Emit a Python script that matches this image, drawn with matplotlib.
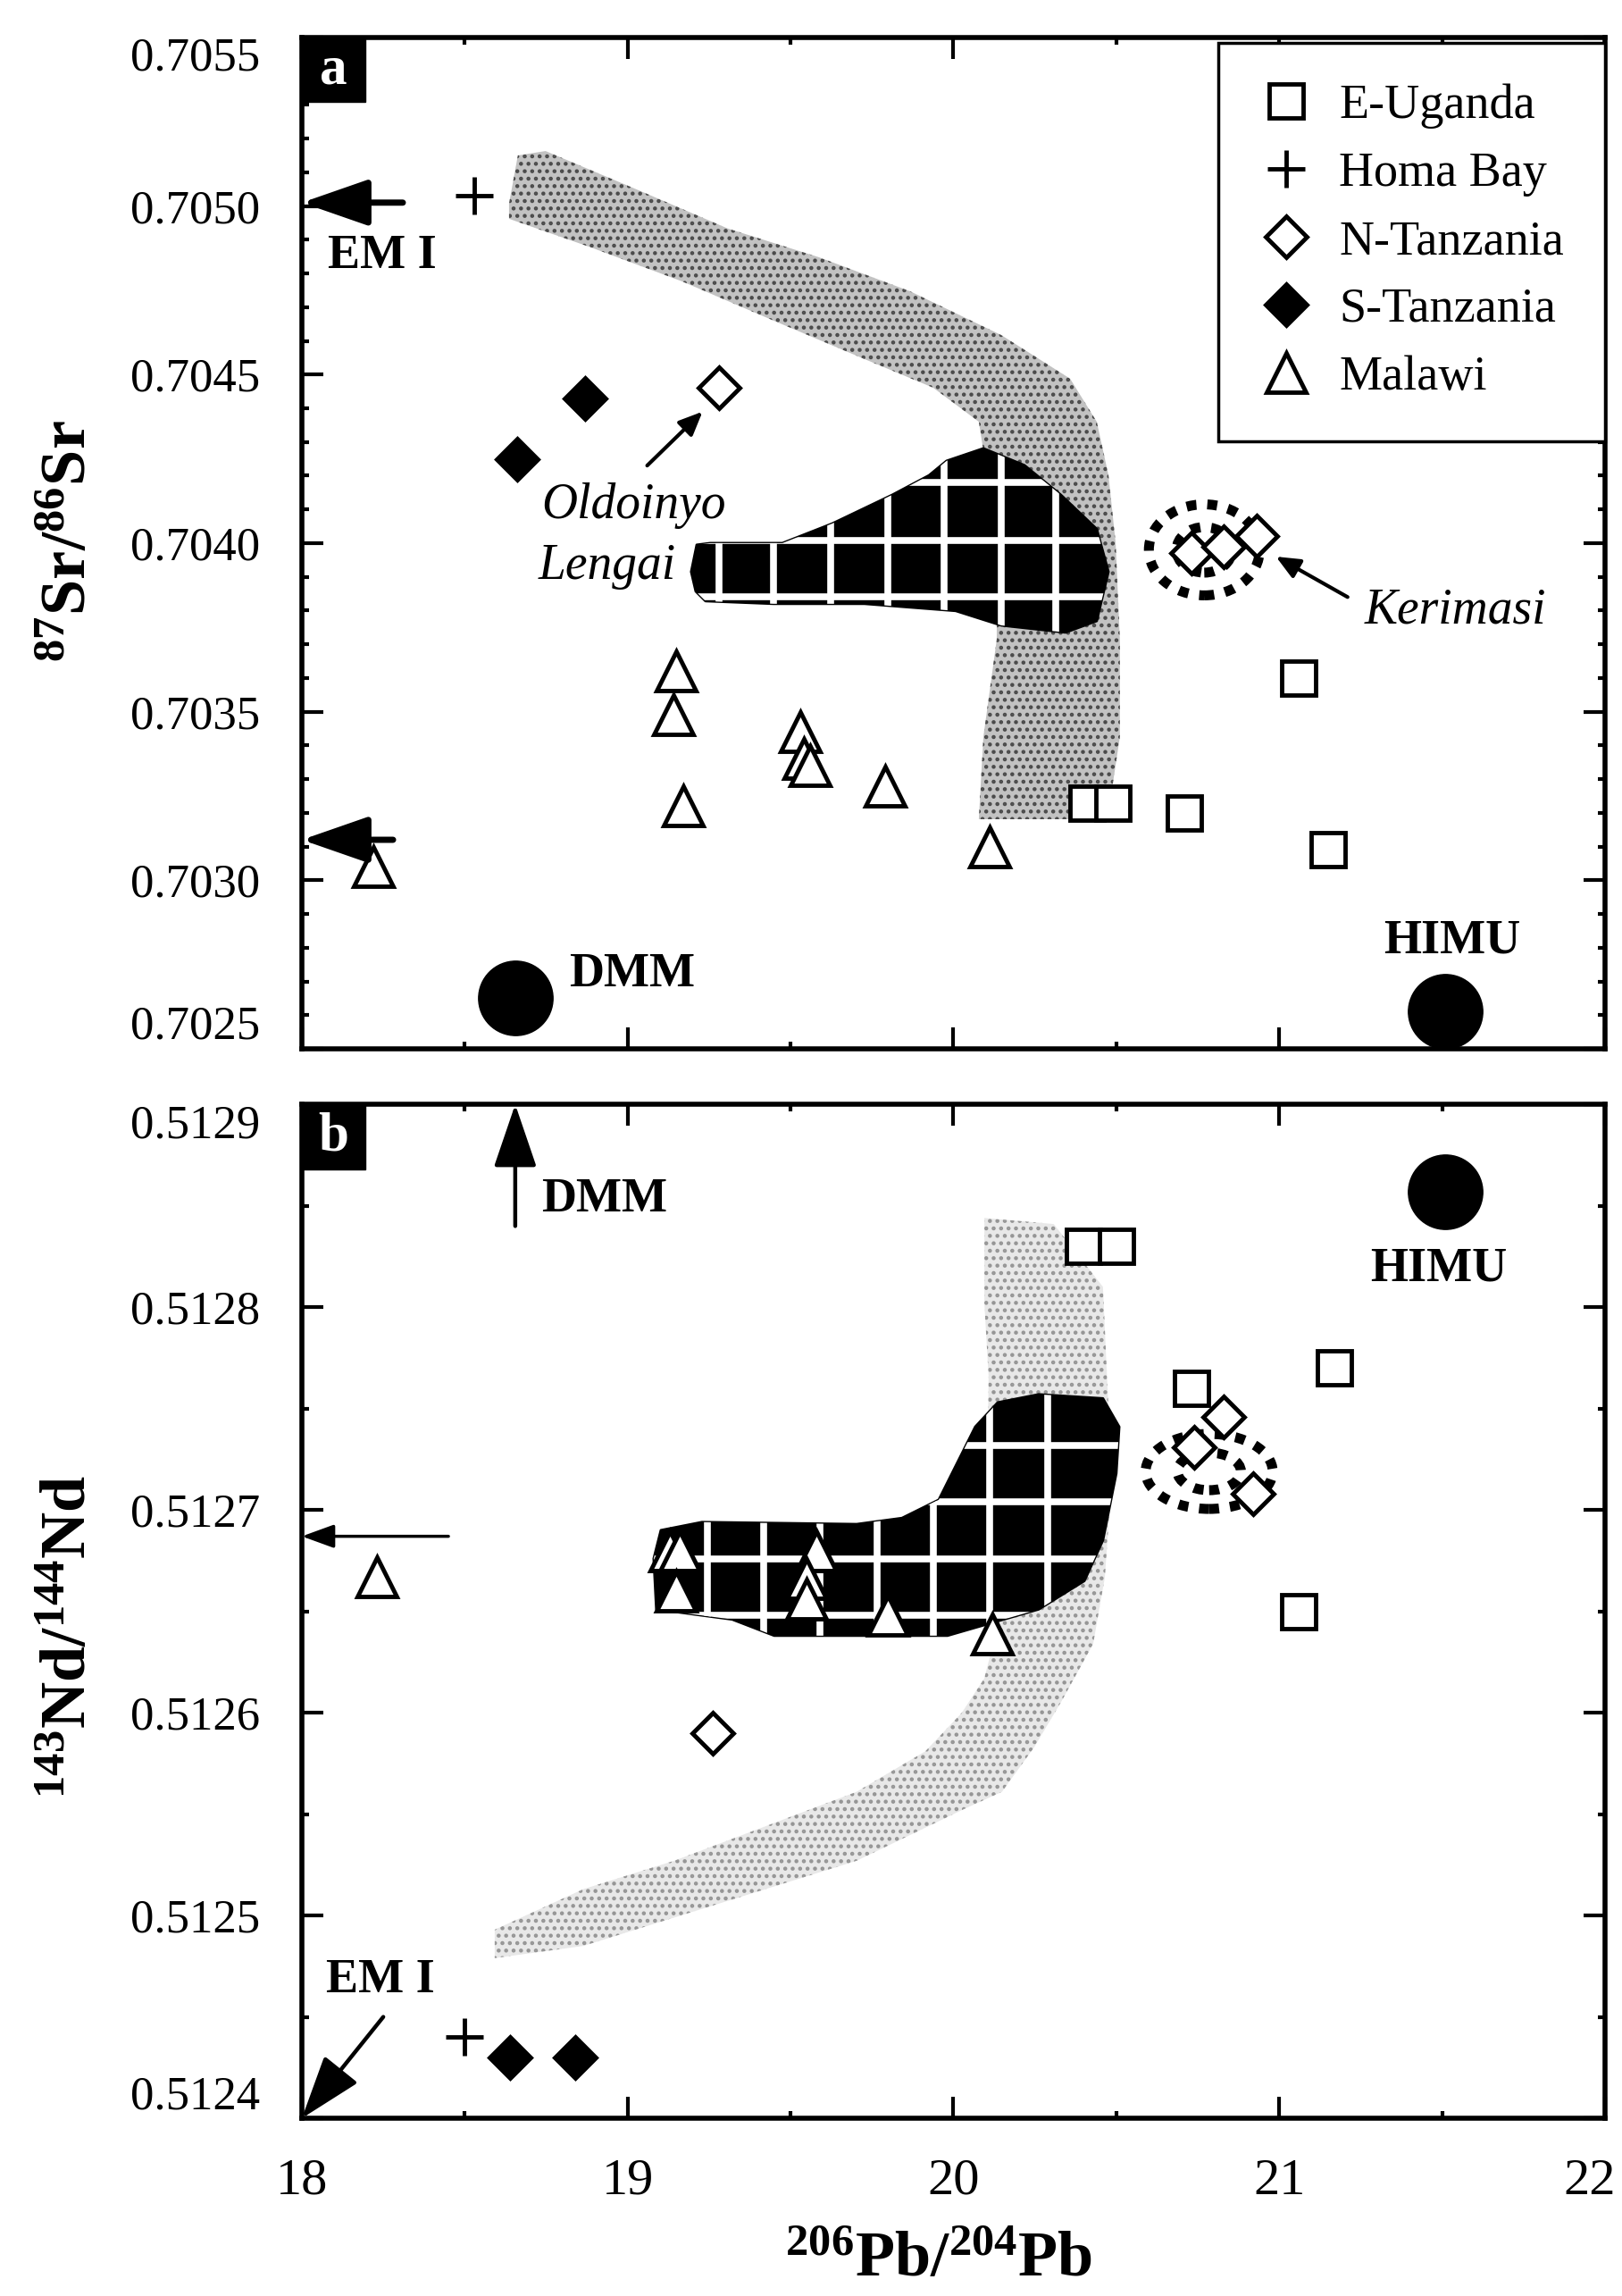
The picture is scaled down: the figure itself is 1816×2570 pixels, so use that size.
import matplotlib.pyplot as plt
from matplotlib.patches import Polygon, Ellipse, Rectangle
from matplotlib.ticker import MultipleLocator, FormatStrFormatter
from matplotlib.transforms import ScaledTranslation

plt.rcParams['font.family'] = ['Liberation Serif', 'DejaVu Serif']
plt.rcParams['mathtext.default'] = 'regular'
plt.rcParams['hatch.linewidth'] = 2.0

# ---------------- axes ticks ----------------
pb_ticks = [18, 19, 20, 21, 22]
sr_ticks = [0.7025, 0.7030, 0.7035, 0.7040, 0.7045, 0.7050, 0.7055]
nd_ticks = [0.5124, 0.5125, 0.5126, 0.5127, 0.5128, 0.5129]

# ---------------- panel a : 206Pb/204Pb vs 87Sr/86Sr ----------------
uganda_pb_a = [20.41, 20.49, 20.71, 21.06, 21.15]
uganda_sr = [0.70323, 0.70323, 0.70320, 0.70360, 0.70309]
homabay_pb_a = [18.53]
homabay_sr = [0.70503]
ntanz_pb_a = [19.28, 20.73, 20.83, 20.93]
ntanz_sr = [0.70446, 0.70397, 0.70399, 0.70402]
stanz_pb_a = [18.66, 18.87]
stanz_sr = [0.70425, 0.70443]
malawi_pb_a = [18.22, 19.15, 19.14, 19.17, 19.53, 19.54, 19.56, 19.79, 20.11]
malawi_sr = [0.70304, 0.70362, 0.70349, 0.70322, 0.70344, 0.70336, 0.70334, 0.70328, 0.70310]

dmm_pb, dmm_sr = 18.655, 0.70265
himu_pb, himu_sr = 21.51, 0.70261

# grey stippled band (outline, clockwise)
band_a_pb = [18.636, 18.663, 18.748, 19.028, 19.308, 19.587, 19.867, 20.147, 20.358,
             20.440, 20.476, 20.498, 20.511, 20.511, 20.484, 20.440,
             20.078, 20.092, 20.133, 20.133, 20.078, 19.938, 19.727, 19.448,
             19.168, 18.888, 18.636]
band_a_sr = [0.705007, 0.70515, 0.705163, 0.705049, 0.704933, 0.704848, 0.704747, 0.704617, 0.704488,
             0.70436, 0.704201, 0.704, 0.703714, 0.703425, 0.703253, 0.703181,
             0.703181, 0.703425, 0.703714, 0.704021, 0.70436, 0.704461, 0.704546, 0.70466,
             0.704776, 0.704877, 0.704962]

# Oldoinyo Lengai field
lengai_pb_a = [19.195, 19.212, 19.253, 19.475, 19.628, 19.812, 19.925, 19.979, 20.092, 20.218,
               20.330, 20.440, 20.476, 20.440, 20.344, 20.147, 20.007, 19.727, 19.448, 19.239, 19.209]
lengai_sr = [0.703915, 0.703995, 0.704, 0.704, 0.704058, 0.704143, 0.704201, 0.704244, 0.704281, 0.704231,
             0.704143, 0.704042, 0.703915, 0.703769, 0.703735, 0.703756, 0.703799, 0.70382, 0.70382, 0.703828, 0.703857]
grid_pb_a = [19.280, 19.447, 19.623, 19.798, 19.971, 20.147, 20.314]
grid_sr = [0.70418, 0.704008, 0.703841]

# Kerimasi field: centre x, centre y, width, height
kerimasi_a = [20.77, 0.70398, 0.34, 0.00027]

# ---------------- panel b : 206Pb/204Pb vs 143Nd/144Nd ----------------
uganda_pb_b = [20.40, 20.50, 20.73, 21.17, 21.06]
uganda_nd = [0.51283, 0.51283, 0.51276, 0.51277, 0.51265]
homabay_pb_b = [18.50]
homabay_nd = [0.51244]
ntanz_pb_b = [19.26, 20.83, 20.74, 20.92]
ntanz_nd = [0.51259, 0.512746, 0.512731, 0.512708]
stanz_pb_b = [18.64, 18.84]
stanz_nd = [0.51243, 0.51243]
malawi_pb_b = [18.23, 19.13, 19.16, 19.15, 19.58, 19.55, 19.55, 19.80, 20.12]
malawi_nd = [0.512667, 0.51268, 0.51268, 0.51266, 0.51268, 0.512666, 0.512656, 0.512648, 0.512639]

himu_nd = 0.512857

band_b_pb = [18.592, 18.592, 18.864, 19.143, 19.423, 19.703, 19.914, 20.026, 20.095, 20.122,
             20.103, 20.108, 20.095, 20.095, 20.308, 20.459, 20.473, 20.487, 20.465, 20.429,
             20.333, 20.248, 20.149, 20.026, 19.703, 19.423, 19.143, 18.864]
band_b_nd = [0.512479, 0.512493, 0.512513, 0.512527, 0.512544, 0.512561, 0.512581, 0.5126, 0.512617, 0.512634,
             0.512696, 0.512766, 0.512802, 0.512844, 0.512841, 0.51281, 0.51276, 0.512718, 0.512667, 0.512634,
             0.512606, 0.512583, 0.512561, 0.512552, 0.512527, 0.512513, 0.512499, 0.512485]

lengai_pb_b = [19.080, 19.102, 19.228, 19.703, 19.842, 19.955, 20.067, 20.136, 20.262, 20.459,
               20.509, 20.500, 20.459, 20.402, 20.262, 19.982, 19.450, 19.321, 19.088]
lengai_nd = [0.512676, 0.51269, 0.512694, 0.512693, 0.512696, 0.512705, 0.512741, 0.512753, 0.512757, 0.512755,
             0.512741, 0.512718, 0.512685, 0.512665, 0.512651, 0.512638, 0.512638, 0.512646, 0.512651]
grid_pb_b = [19.245, 19.417, 19.590, 19.766, 19.938, 20.110, 20.289]
grid_nd = [0.512732, 0.512704, 0.512676, 0.512648]

kerimasi_b = [20.785, 0.512719, 0.39, 0.000037]

# arrows: (tail, tip, style)
arrows_a = [((18.31, 0.70501), (18.0, 0.70501), 'big'),
            ((18.28, 0.70312), (18.0, 0.70312), 'big'),
            ((19.06, 0.70423), (19.23, 0.70439), 'small'),
            ((21.21, 0.70384), (20.99, 0.70396), 'small')]
arrows_b = [((18.655, 0.51284), (18.655, 0.5129), 'mid'),
            ((18.45, 0.512687), (18.0, 0.512687), 'thin'),
            ((18.25, 0.51245), (18.0, 0.5124), 'mid')]

groups = ['E-Uganda', 'Homa Bay', 'N-Tanzania', 'S-Tanzania', 'Malawi']
styles = {
    'E-Uganda': dict(marker='s', ms=28, mfc='white', mec='black', mew=3.5),
    'Homa Bay': dict(marker='+', ms=30, mec='black', mew=3.5),
    'N-Tanzania': dict(marker='D', ms=23, mfc='white', mec='black', mew=3.5),
    'S-Tanzania': dict(marker='D', ms=23, mfc='black', mec='black', mew=3.5),
    'Malawi': dict(marker='^', ms=32, mfc='white', mec='black', mew=3.5),
}
arrow_styles = {
    'big': dict(arrowstyle='-|>,head_length=2.3,head_width=0.8', lw=5, mutation_scale=20),
    'mid': dict(arrowstyle='-|>,head_length=2.2,head_width=0.75', lw=3.2, mutation_scale=20),
    'thin': dict(arrowstyle='-|>,head_length=1.1,head_width=0.4', lw=2.5, mutation_scale=20),
    'small': dict(arrowstyle='-|>,head_length=0.8,head_width=0.35', lw=3, mutation_scale=20),
}

fig = plt.figure(figsize=(18.16, 25.70), dpi=100)
ax_a = fig.add_axes([0.1861, 0.5432, 0.8034, 0.4405])
ax_b = fig.add_axes([0.1861, 0.0774, 0.8034, 0.4416])


def add_field(ax, band_x, band_y, band_fc, band_hc, field_x, field_y, gx, gy, ker):
    band = Polygon(list(zip(band_x, band_y)), closed=True, facecolor=band_fc,
                   edgecolor=band_hc, lw=0, hatch='..', zorder=1)
    ax.add_patch(band)
    field = Polygon(list(zip(field_x, field_y)), closed=True, facecolor='black',
                    edgecolor='black', lw=2, joinstyle='round', zorder=2)
    ax.add_patch(field)
    for x in gx:
        ln = ax.axvline(x, color='white', lw=5.5, zorder=2.5)
        ln.set_clip_path(field)
    for y in gy:
        ln = ax.axhline(y, color='white', lw=5.5, zorder=2.5)
        ln.set_clip_path(field)
    cx, cy, w, h = ker
    for f in [1.0, 0.5]:
        ax.add_patch(Ellipse((cx, cy), w * f, h * f, facecolor='none', edgecolor='black',
                             lw=8, linestyle=(0, (1.0, 1.1)), zorder=2))


def style_axes(ax, yticks, ymin_step):
    ax.set_xlim(pb_ticks[0], pb_ticks[-1])
    ax.set_ylim(yticks[0], yticks[-1])
    ax.set_xticks(pb_ticks)
    ax.set_yticks(yticks)
    ax.xaxis.set_minor_locator(MultipleLocator(0.5))
    ax.yaxis.set_minor_locator(MultipleLocator(ymin_step))
    ax.yaxis.set_major_formatter(FormatStrFormatter('%.4f'))
    ax.tick_params(which='both', direction='in', top=True, right=True)
    ax.tick_params(which='major', length=17, width=3)
    ax.tick_params(which='minor', length=6, width=3)
    ax.tick_params(axis='y', labelsize=38, pad=34)
    ax.tick_params(axis='x', labelsize=42, pad=32)
    for s in ax.spines.values():
        s.set_linewidth(4)


def panel_tag(ax, letter):
    ax.add_patch(Rectangle((0, 1 - 0.064), 0.049, 0.064, transform=ax.transAxes,
                           facecolor='black', edgecolor='black', zorder=6, clip_on=False))
    ax.text(0.0245, 1 - 0.032, letter, transform=ax.transAxes, ha='center', va='center',
            color='white', fontsize=44, fontweight='bold', zorder=7)


# ---- panel a ----
add_field(ax_a, band_a_pb, band_a_sr, '#c2c2c2', '#4a4a4a',
          lengai_pb_a, lengai_sr, grid_pb_a, grid_sr, kerimasi_a)
data_a = {'E-Uganda': (uganda_pb_a, uganda_sr), 'Homa Bay': (homabay_pb_a, homabay_sr),
          'N-Tanzania': (ntanz_pb_a, ntanz_sr), 'S-Tanzania': (stanz_pb_a, stanz_sr),
          'Malawi': (malawi_pb_a, malawi_sr)}
for g in groups:
    x, y = data_a[g]
    ax_a.plot(x, y, ls='none', label=g, zorder=4, **styles[g])
ax_a.plot([dmm_pb], [dmm_sr], 'o', color='black', ms=60, zorder=4)
ax_a.plot([himu_pb], [himu_sr], 'o', color='black', ms=60, zorder=4)
ax_a.text(18.82, 0.70272, 'DMM', fontsize=39, fontweight='bold', ha='left', va='center')
ax_a.text(21.53, 0.70282, 'HIMU', fontsize=39, fontweight='bold', ha='center', va='center')
ax_a.text(18.08, 0.70485, 'EM I', fontsize=39, fontweight='bold', ha='left', va='center')
ax_a.text(18.735, 0.70411, 'Oldoinyo', fontsize=40, style='italic', ha='left', va='center')
ax_a.text(18.727, 0.70393, 'Lengai', fontsize=40, style='italic', ha='left', va='center')
ax_a.text(21.263, 0.7038, 'Kerimasi', fontsize=40, style='italic', ha='left', va='center')
for tail, tip, kind in arrows_a:
    ax_a.annotate('', xy=tip, xytext=tail, annotation_clip=False, zorder=5,
                  arrowprops=dict(color='black', shrinkA=0, shrinkB=0, **arrow_styles[kind]))

style_axes(ax_a, sr_ticks, 0.0001)
ax_a.tick_params(labelbottom=False)
leg = ax_a.legend(loc='upper right', bbox_to_anchor=(1.0, 0.995), borderaxespad=0, fontsize=39,
                  frameon=True, fancybox=False, edgecolor='black', framealpha=1, borderpad=0.85,
                  labelspacing=0.47, handlelength=1.1, handletextpad=0.55, numpoints=1)
leg.get_frame().set_linewidth(2.5)
panel_tag(ax_a, 'a')

# ---- panel b ----
add_field(ax_b, band_b_pb, band_b_nd, '#e8e8e8', '#959595',
          lengai_pb_b, lengai_nd, grid_pb_b, grid_nd, kerimasi_b)
data_b = {'E-Uganda': (uganda_pb_b, uganda_nd), 'Homa Bay': (homabay_pb_b, homabay_nd),
          'N-Tanzania': (ntanz_pb_b, ntanz_nd), 'S-Tanzania': (stanz_pb_b, stanz_nd),
          'Malawi': (malawi_pb_b, malawi_nd)}
for g in groups:
    x, y = data_b[g]
    ax_b.plot(x, y, ls='none', zorder=4, **styles[g])
ax_b.plot([himu_pb], [himu_nd], 'o', color='black', ms=60, zorder=4)
ax_b.text(21.49, 0.512819, 'HIMU', fontsize=39, fontweight='bold', ha='center', va='center')
ax_b.text(18.735, 0.512853, 'DMM', fontsize=39, fontweight='bold', ha='left', va='center')
ax_b.text(18.074, 0.512468, 'EM I', fontsize=39, fontweight='bold', ha='left', va='center')
for tail, tip, kind in arrows_b:
    ax_b.annotate('', xy=tip, xytext=tail, annotation_clip=False, zorder=5,
                  arrowprops=dict(color='black', shrinkA=0, shrinkB=0, **arrow_styles[kind]))

style_axes(ax_b, nd_ticks, 0.00005)
panel_tag(ax_b, 'b')

# end tick labels sit inside the frame as in the original
for ax in (ax_a, ax_b):
    labs = ax.get_yticklabels()
    labs[0].set_va('bottom')
    labs[-1].set_va('top')
xl = ax_b.get_xticklabels()
xl[-1].set_transform(xl[-1].get_transform() + ScaledTranslation(-0.17, 0, fig.dpi_scale_trans))

fig.text(0.0435, 0.7642, r'$^{87}$Sr/$^{86}$Sr', rotation=90, fontsize=52, fontweight='bold',
         ha='center', va='center')
fig.text(0.0435, 0.287, r'$^{143}$Nd/$^{144}$Nd', rotation=90, fontsize=52, fontweight='bold',
         ha='center', va='center')
fig.text(0.5787, 0.028, r'$^{206}$Pb/$^{204}$Pb', fontsize=52, fontweight='bold',
         ha='center', va='top')

fig.savefig('out.png', dpi=100)
